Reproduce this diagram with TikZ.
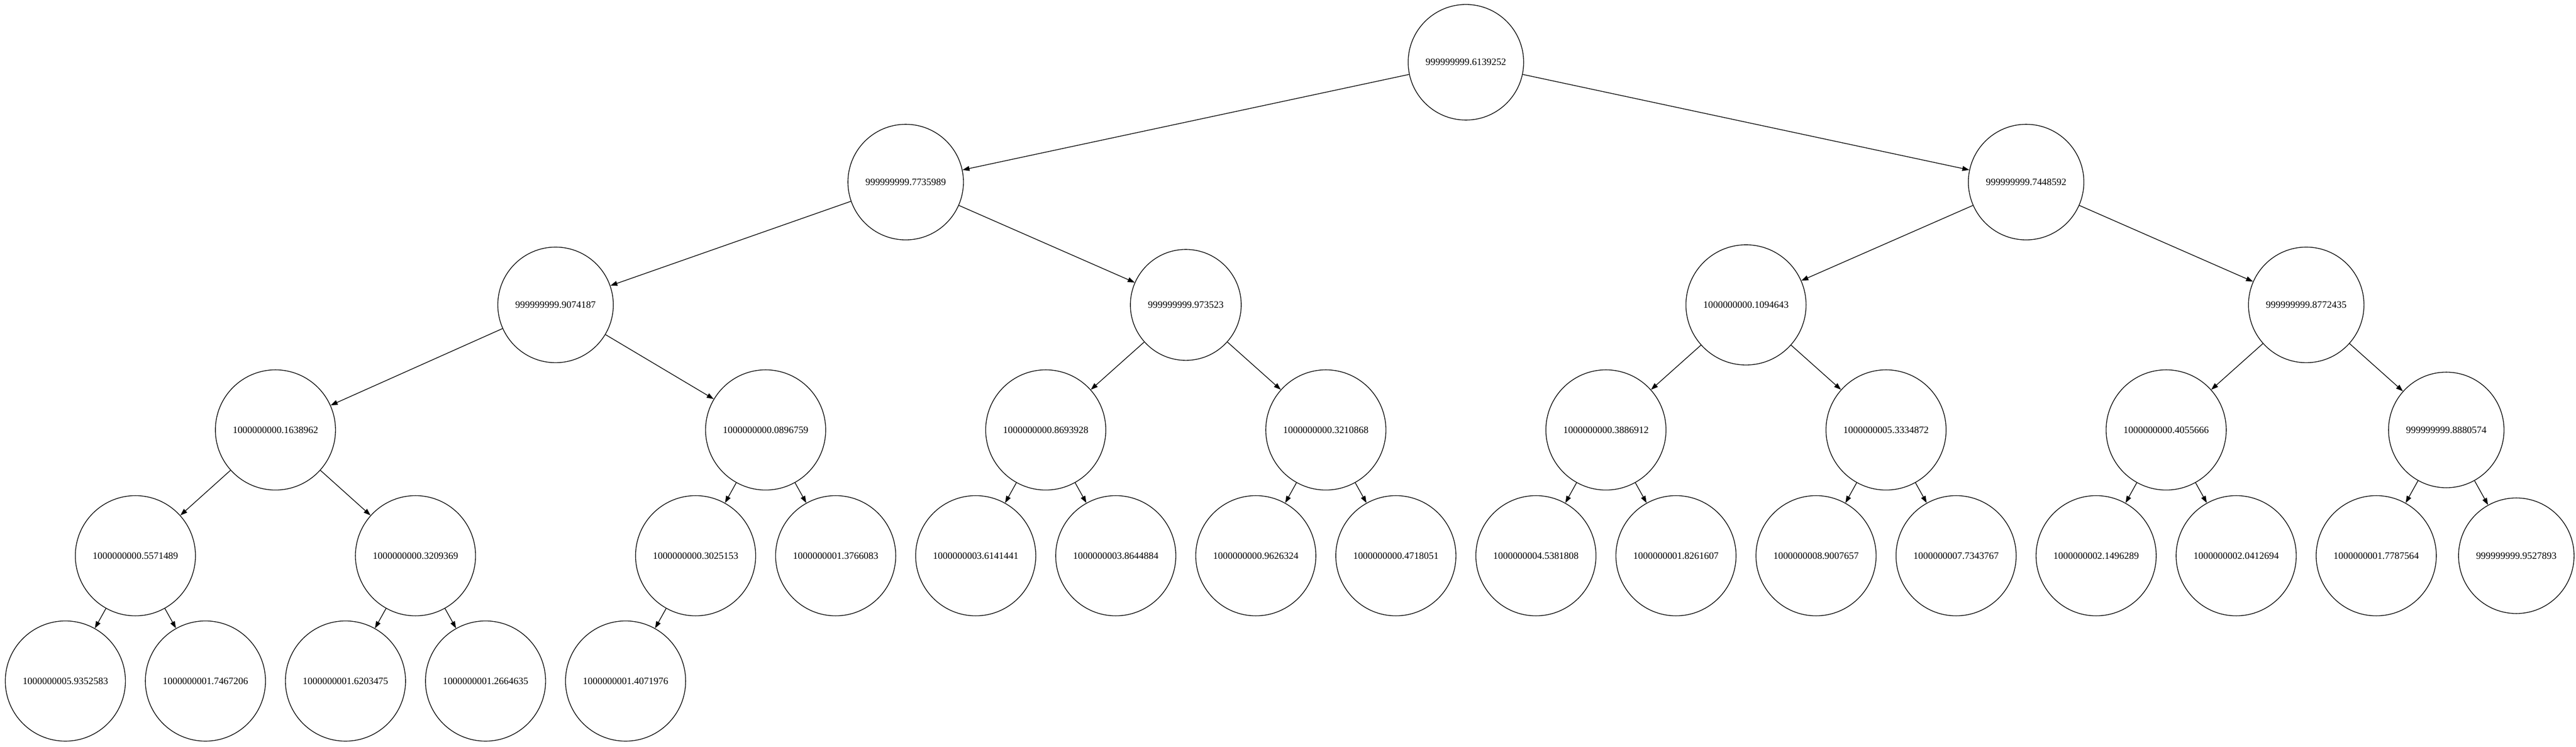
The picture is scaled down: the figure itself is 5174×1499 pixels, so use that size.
\documentclass[tikz,border=0pt]{standalone}
\usepackage{fontspec}
\setmainfont{Liberation Serif}
\usetikzlibrary{arrows.meta}

\tikzset{val/.style={circle,draw,inner sep=29.7pt,font=\fontsize{19.6}{23.5}\selectfont}}

\begin{document}
\begin{tikzpicture}[x=281.3pt,y=-1pt,line width=1.4pt,>={Triangle[length=14pt,width=9.8pt]}]
  \useasboundingbox (-131.3pt,0pt) rectangle (5042.7pt,-1499pt);
  % rank 0
  \node[val] (0)  at (10,125)     {999999999.6139252};
  % rank 1
  \node[val] (1)  at (6,365.5)    {999999999.7735989};
  \node[val] (2)  at (14,365.5)   {999999999.7448592};
  % rank 2
  \node[val] (3)  at (3.5,612)    {999999999.9074187};
  \node[val] (4)  at (8,612)      {999999999.973523};
  \node[val] (5)  at (12,612)     {1000000000.1094643};
  \node[val] (6)  at (16,612)     {999999999.8772435};
  % rank 3
  \node[val] (7)  at (1.5,863)    {1000000000.1638962};
  \node[val] (8)  at (5,863)      {1000000000.0896759};
  \node[val] (9)  at (7,863)      {1000000000.8693928};
  \node[val] (10) at (9,863)      {1000000000.3210868};
  \node[val] (11) at (11,863)     {1000000000.3886912};
  \node[val] (12) at (13,863)     {1000000005.3334872};
  \node[val] (13) at (15,863)     {1000000000.4055666};
  \node[val] (14) at (17,863)     {999999999.8880574};
  % rank 4
  \node[val] (15) at (0.5,1115.5)  {1000000000.5571489};
  \node[val] (16) at (2.5,1115.5)  {1000000000.3209369};
  \node[val] (17) at (4.5,1115.5)  {1000000000.3025153};
  \node[val] (18) at (5.5,1115.5)  {1000000001.3766083};
  \node[val] (19) at (6.5,1115.5)  {1000000003.6141441};
  \node[val] (20) at (7.5,1115.5)  {1000000003.8644884};
  \node[val] (21) at (8.5,1115.5)  {1000000000.9626324};
  \node[val] (22) at (9.5,1115.5)  {1000000000.4718051};
  \node[val] (23) at (10.5,1115.5) {1000000004.5381808};
  \node[val] (24) at (11.5,1115.5) {1000000001.8261607};
  \node[val] (25) at (12.5,1115.5) {1000000008.9007657};
  \node[val] (26) at (13.5,1115.5) {1000000007.7343767};
  \node[val] (27) at (14.5,1115.5) {1000000002.1496289};
  \node[val] (28) at (15.5,1115.5) {1000000002.0412694};
  \node[val] (29) at (16.5,1115.5) {1000000001.7787564};
  \node[val] (30) at (17.5,1115.5) {999999999.9527893};
  % rank 5
  \node[val] (31) at (0,1367)     {1000000005.9352583};
  \node[val] (32) at (1,1367)     {1000000001.7467206};
  \node[val] (33) at (2,1367)     {1000000001.6203475};
  \node[val] (34) at (3,1367)     {1000000001.2664635};
  \node[val] (35) at (4,1367)     {1000000001.4071976};
  \path[->] (0) edge (1)
            (0) edge (2)
            (1) edge (3)
            (1) edge (4)
            (2) edge (5)
            (2) edge (6)
            (3) edge (7)
            (3) edge (8)
            (4) edge (9)
            (4) edge (10)
            (5) edge (11)
            (5) edge (12)
            (6) edge (13)
            (6) edge (14)
            (7) edge (15)
            (7) edge (16)
            (8) edge (17)
            (8) edge (18)
            (9) edge (19)
            (9) edge (20)
            (10) edge (21)
            (10) edge (22)
            (11) edge (23)
            (11) edge (24)
            (12) edge (25)
            (12) edge (26)
            (13) edge (27)
            (13) edge (28)
            (14) edge (29)
            (14) edge (30)
            (15) edge (31)
            (15) edge (32)
            (16) edge (33)
            (16) edge (34)
            (17) edge (35);
\end{tikzpicture}
\end{document}
